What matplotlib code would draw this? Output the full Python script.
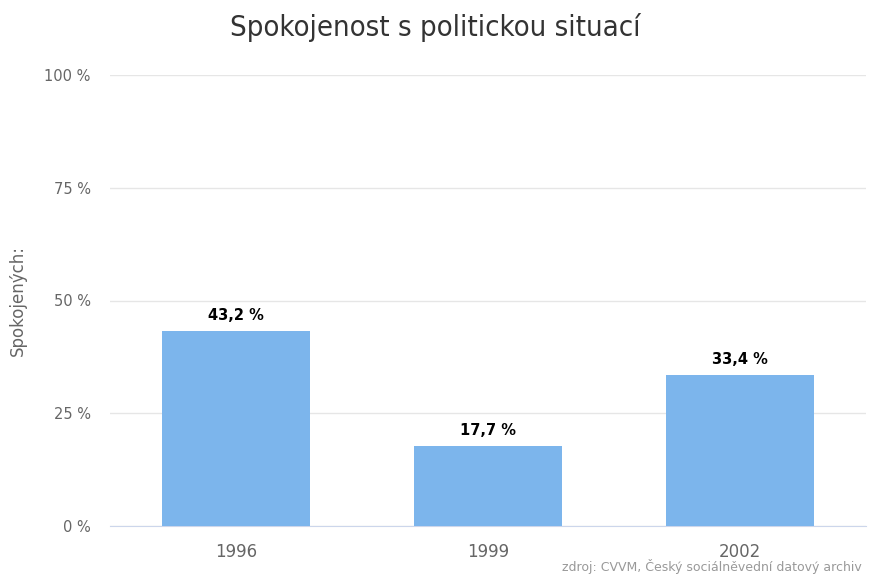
import matplotlib.pyplot as plt
from matplotlib.ticker import FuncFormatter

# ------------------------------------------------ Data ------------------------------------------------
years = ["1996", "1999", "2002"]
satisfied = [43.2, 17.7, 33.4]
y_ticks = [0, 25, 50, 75, 100]

# ------------------------------------------------ Plot ------------------------------------------------
fig = plt.figure(figsize=(8.7, 5.75), dpi=100)
ax = fig.add_axes([110 / 870, 1 - 526 / 575, 756 / 870, 451 / 575])

x = range(len(years))
bars = ax.bar(x, satisfied, width=0.587, color="#7cb5ec", zorder=3)

for b, v in zip(bars, satisfied):
    ax.text(b.get_x() + b.get_width() / 2, v + 1.8, f"{v:.1f} %".replace(".", ","),
            ha="center", va="bottom", fontsize=10.5, fontweight="bold", color="black",
            fontstretch="normal")

ax.set_xlim(-0.5, 2.5)
ax.set_ylim(0, 100)
ax.set_yticks(y_ticks)
ax.yaxis.set_major_formatter(FuncFormatter(lambda v, p: f"{int(v)} %"))
ax.set_xticks(list(x))
ax.set_xticklabels(years)

ax.grid(axis="y", color="#e6e6e6", linewidth=1, zorder=0)
for s in ["top", "right", "left"]:
    ax.spines[s].set_visible(False)
ax.spines["bottom"].set_color("#ccd6eb")
ax.tick_params(axis="y", length=0, pad=14, labelsize=10.5, labelcolor="#666666")
ax.tick_params(axis="x", length=0, pad=12, labelsize=12, labelcolor="#666666")

ax.set_ylabel("Spokojených:", fontsize=12, color="#666666")
ax.yaxis.set_label_coords(-0.11, 0.5)

fig.text(0.5, 1 - 27 / 575, "Spokojenost s politickou situací", ha="center", va="center",
         fontsize=21, color="#333333", family="DejaVu Sans", fontstretch="condensed")
fig.text(862 / 870, 1 - 567 / 575, "zdroj: CVVM, Český sociálněvední datový archiv",
         ha="right", va="center", fontsize=9, color="#999999")

plt.savefig("out.png", dpi=100)
